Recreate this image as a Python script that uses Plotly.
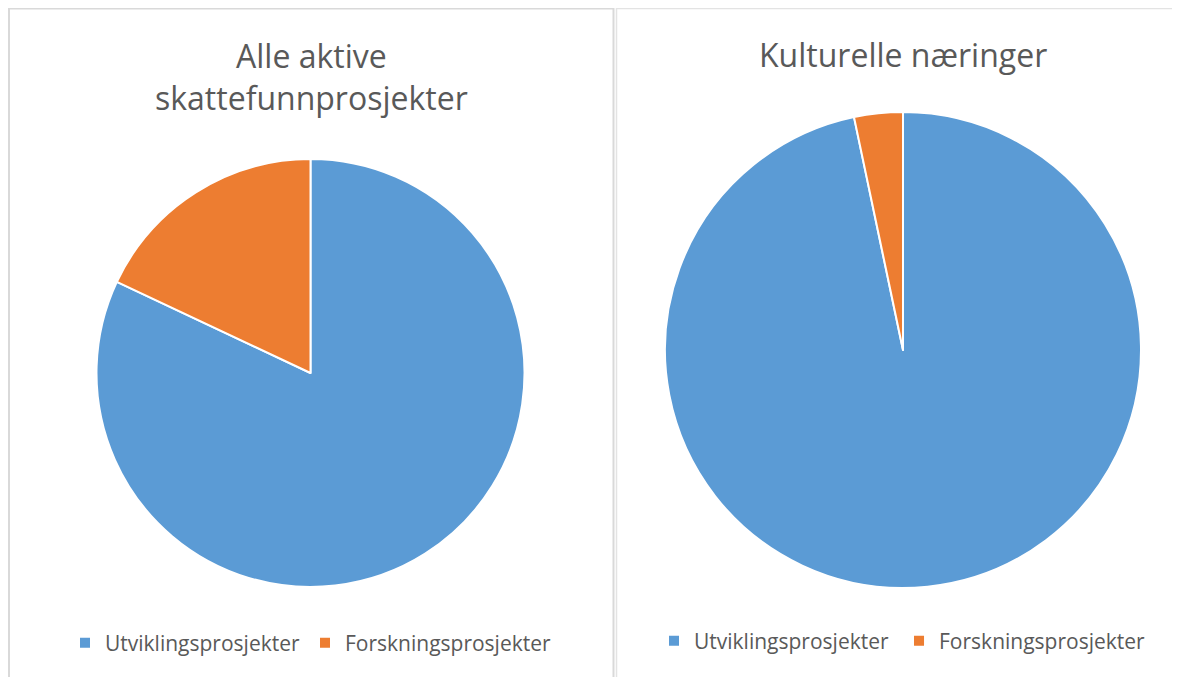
import plotly.graph_objects as go

# The page body adds an 8px margin; size and coordinates are compensated for it.
OFF = 8
W, H = 1180 - OFF, 677 - OFF

labels = ["Utviklingsprosjekter", "Forskningsprosjekter"]
left_values = [82, 18]
right_values = [96.7, 3.3]
titles = ["Alle aktive<br>skattefunnprosjekter", "Kulturelle næringer"]
colors = ["#5b9bd5", "#ed7d31"]

def px_x(v):
    return (v - OFF) / W

def px_y(v):
    return 1 - (v - OFF) / H

fig = go.Figure()
fig.add_trace(go.Pie(
    labels=labels, values=left_values, sort=False, direction="clockwise", rotation=0,
    marker=dict(colors=colors, line=dict(color="white", width=2)),
    textinfo="none", hoverinfo="label+percent",
    domain=dict(x=[px_x(310.5 - 214), px_x(310.5 + 214)], y=[px_y(373 + 214), px_y(373 - 214)]),
    legend="legend",
))
# trailing space keeps the second pie's legend entries distinct from the first
fig.add_trace(go.Pie(
    labels=[l + " " for l in labels], values=right_values, sort=False, direction="clockwise", rotation=0,
    marker=dict(colors=colors, line=dict(color="white", width=2)),
    textinfo="none", hoverinfo="label+percent",
    domain=dict(x=[px_x(903 - 238), px_x(903 + 238)], y=[px_y(350 + 238), px_y(350 - 238)]),
    legend="legend2",
))

font_family = "Open Sans, Noto Sans, sans-serif"
ann = []
ann.append(dict(text=titles[0], x=px_x(311), y=px_y(77), xref="paper", yref="paper",
                showarrow=False, font=dict(size=32, color="#595959", family=font_family),
                xanchor="center", yanchor="middle"))
ann.append(dict(text=titles[1], x=px_x(903), y=px_y(54), xref="paper", yref="paper",
                showarrow=False, font=dict(size=32, color="#595959", family=font_family),
                xanchor="center", yanchor="middle"))

shapes = [
    dict(type="rect", xref="paper", yref="paper", x0=px_x(9), x1=px_x(613.5), y0=px_y(720), y1=px_y(8.5),
         line=dict(color="#d9d9d9", width=2)),
    dict(type="rect", xref="paper", yref="paper", x0=px_x(616.5), x1=px_x(1220), y0=px_y(720), y1=px_y(8.5),
         line=dict(color="#e3e3e3", width=1.5)),
]

legend_common = dict(orientation="h", font=dict(size=21, color="#595959", family=font_family),
                     bgcolor="rgba(0,0,0,0)", itemwidth=30, xanchor="center", yanchor="middle",
                     tracegroupgap=0)

fig.update_layout(
    width=W, height=H,
    margin=dict(l=0, r=0, t=0, b=0),
    paper_bgcolor="white", plot_bgcolor="white",
    annotations=ann, shapes=shapes,
    showlegend=True,
    legend=dict(x=px_x(311), y=px_y(643), **legend_common),
    legend2=dict(x=px_x(905), y=px_y(641), **legend_common),
)

fig.write_html("out.html")
